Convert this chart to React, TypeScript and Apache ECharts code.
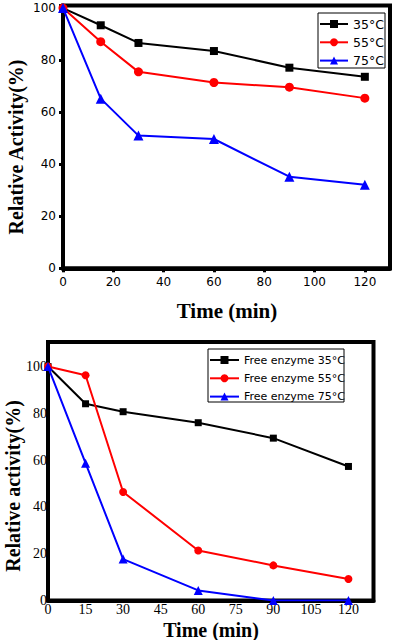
import React, { useEffect, useRef } from "react";
import * as echarts from "echarts";

const times = [0, 15, 30, 60, 90, 120];
const topNames = ["35°C", "55°C", "75°C"];
const bottomNames = ["Free enzyme 35°C", "Free enzyme 55°C", "Free enzyme 75°C"];
const immob35 = [100, 93.4, 86.6, 83.5, 77.1, 73.6];
const immob55 = [100, 87.1, 75.5, 71.4, 69.6, 65.4];
const immob75 = [100, 65.2, 51.0, 49.7, 35.2, 32.1];
const free35 = [100, 84.1, 80.7, 76.0, 69.4, 57.3];
const free55 = [100, 96.3, 46.4, 21.4, 15.0, 9.2];
const free75 = [100, 58.7, 17.7, 4.3, 0, 0];
const topXTicks = [0, 20, 40, 60, 80, 100, 120];
const topYTicks = [0, 20, 40, 60, 80, 100];
const bottomXTicks = [0, 15, 30, 45, 60, 75, 90, 105, 120];
const bottomYTicks = [0, 20, 40, 60, 80, 100];

const colors = ["#000000", "#ff0000", "#0000ff"];
const symbols = ["rect", "circle", "triangle"];

const pair = (vals: number[]) => times.map((t, i) => [t, vals[i]]);

export default function App() {
  const ref = useRef<HTMLDivElement>(null);
  useEffect(() => {
    if (!ref.current) return;
    const chart = echarts.init(ref.current, null, { renderer: "svg" });
    const topSeries = [immob35, immob55, immob75].map((v, i) => ({
      name: topNames[i],
      type: "line",
      xAxisIndex: 0,
      yAxisIndex: 0,
      data: pair(v),
      symbol: symbols[i],
      symbolSize: i === 0 ? 8 : i === 1 ? 9 : 10,
      lineStyle: { color: colors[i], width: 2 },
      itemStyle: { color: colors[i] },
    }));
    const bottomSeries = [free35, free55, free75].map((v, i) => ({
      name: bottomNames[i],
      type: "line",
      xAxisIndex: 1,
      yAxisIndex: 1,
      data: pair(v),
      symbol: symbols[i],
      symbolSize: i === 0 ? 7 : i === 1 ? 8 : 9,
      lineStyle: { color: colors[i], width: 2 },
      itemStyle: { color: colors[i] },
    }));
    const topLabel = { fontFamily: "DejaVu Sans", fontSize: 12, color: "#000" };
    const botLabel = { fontFamily: "Liberation Serif", fontSize: 14, color: "#000" };
    chart.setOption({
      animation: false,
      grid: [
        { left: 63, top: 5.5, width: 327, height: 262.8, show: true, borderColor: "#000", borderWidth: 4, backgroundColor: "transparent" },
        { left: 48, top: 342, width: 325.5, height: 258.5, show: true, borderColor: "#000", borderWidth: 4, backgroundColor: "transparent" },
      ],
      xAxis: [
        {
          gridIndex: 0, type: "value", min: 0, max: 130, interval: 20,
          axisLine: { show: true, lineStyle: { color: "#000", width: 4 } },
          axisTick: { show: true, inside: false, length: 4, lineStyle: { color: "#000", width: 3 }, customValues: topXTicks },
          axisLabel: { ...topLabel, margin: 8, customValues: topXTicks },
          splitLine: { show: false },
        },
        {
          gridIndex: 1, type: "value", min: 0, max: 130, interval: 15,
          axisLine: { show: true, lineStyle: { color: "#000", width: 4 } },
          axisTick: { show: false },
          axisLabel: { ...botLabel, margin: 2, customValues: bottomXTicks },
          splitLine: { show: false },
        },
      ],
      yAxis: [
        {
          gridIndex: 0, type: "value", min: 0, max: 101, interval: 20,
          axisLine: { show: true, lineStyle: { color: "#000", width: 4 } },
          axisTick: { show: true, inside: false, length: 4, lineStyle: { color: "#000", width: 3 }, customValues: topYTicks },
          axisLabel: { ...topLabel, margin: 7, customValues: topYTicks },
          splitLine: { show: false },
        },
        {
          gridIndex: 1, type: "value", min: 0, max: 110.5, interval: 20,
          axisLine: { show: true, lineStyle: { color: "#000", width: 4 } },
          axisTick: { show: false },
          axisLabel: { ...botLabel, margin: 1, customValues: bottomYTicks },
          splitLine: { show: false },
        },
      ],
      legend: [
        {
          data: topNames, orient: "vertical", left: 319, top: 17, padding: 0,
          itemWidth: 28, itemHeight: 10, itemGap: 4.3,
          textStyle: { fontFamily: "DejaVu Sans", fontSize: 12.5, color: "#000", lineHeight: 14 },
        },
        {
          data: bottomNames, orient: "vertical", left: 209, top: 353, padding: 0,
          itemWidth: 29, itemHeight: 10, itemGap: 4.3,
          textStyle: { fontFamily: "DejaVu Sans", fontSize: 11, color: "#000", lineHeight: 14 },
        },
      ],
      graphic: [
        { type: "rect", shape: { x: 318, y: 13, width: 67, height: 55 }, style: { fill: "none", stroke: "#000", lineWidth: 1 }, z: 10 },
        { type: "rect", shape: { x: 208, y: 349, width: 136, height: 53 }, style: { fill: "none", stroke: "#000", lineWidth: 1 }, z: 10 },
        {
          type: "text", x: 16, y: 147, rotation: Math.PI / 2,
          style: { text: "Relative Activity(%)", font: "bold 20px 'Liberation Serif'", fill: "#000", textAlign: "center", textVerticalAlign: "middle" },
        },
        {
          type: "text", x: 227, y: 311,
          style: { text: "Time (min)", font: "bold 21px 'Liberation Serif'", fill: "#000", textAlign: "center", textVerticalAlign: "middle" },
        },
        {
          type: "text", x: 12.5, y: 486, rotation: Math.PI / 2,
          style: { text: "Relative activity(%)", font: "bold 20px 'Liberation Serif'", fill: "#000", textAlign: "center", textVerticalAlign: "middle" },
        },
        {
          type: "text", x: 211, y: 630,
          style: { text: "Time (min)", font: "bold 20px 'Liberation Serif'", fill: "#000", textAlign: "center", textVerticalAlign: "middle" },
        },
      ],
      series: [...topSeries, ...bottomSeries],
    });
    return () => chart.dispose();
  }, []);
  return (
    <div
      ref={ref}
      style={{ position: "fixed", left: 0, top: 0, width: 394, height: 640, background: "#fff" }}
    />
  );
}
